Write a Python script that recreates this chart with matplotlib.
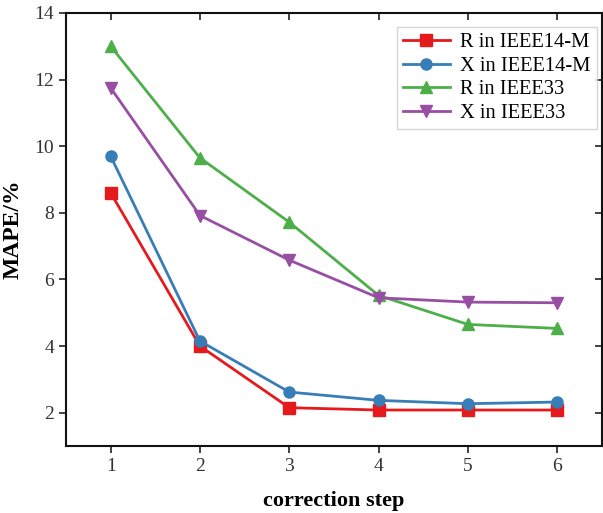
import matplotlib
matplotlib.use("Agg")
import matplotlib.pyplot as plt
import matplotlib.lines as mlines

steps = [1, 2, 3, 4, 5, 6]
r_ieee14 = [8.6, 4.0, 2.15, 2.08, 2.08, 2.08]
x_ieee14 = [9.7, 4.15, 2.62, 2.37, 2.27, 2.32]
r_ieee33 = [13.0, 9.65, 7.72, 5.52, 4.65, 4.53]
x_ieee33 = [11.75, 7.92, 6.58, 5.45, 5.32, 5.30]
labels = ["R in IEEE14-M", "X in IEEE14-M", "R in IEEE33", "X in IEEE33"]
yticks = [2, 4, 6, 8, 10, 12, 14]

plt.rcParams['font.family'] = ['Liberation Serif', 'DejaVu Serif']

fig = plt.figure(figsize=(6.03, 5.13), dpi=100)
ax = fig.add_axes([0.1095, 0.1306, 0.8885, 0.8441])

series = [r_ieee14, x_ieee14, r_ieee33, x_ieee33]
colors = ['#e41a1c', '#377eb8', '#4daf4a', '#984ea3']
markers = ['s', 'o', '^', 'v']
for vals, c, m, lab in zip(series, colors, markers, labels):
    ax.plot(steps, vals, color=c, marker=m, lw=2.0, ms=8, label=lab)

ax.set_xlim(0.5, 6.5)
ax.set_ylim(1, 14)
ax.set_xticks(steps)
ax.set_yticks(yticks)
ax.tick_params(axis='both', direction='out', labelsize=14, length=5, width=1.2,
               color='#222222', labelcolor='#333333', top=True, right=True,
               labeltop=False, labelright=False)
for t in ax.xaxis.get_major_ticks():
    t.tick2line.set_marker(mlines.TICKDOWN)
for t in ax.yaxis.get_major_ticks():
    t.tick2line.set_marker(mlines.TICKLEFT)

for s in ax.spines.values():
    s.set_linewidth(1.5)
    s.set_color('#111111')

ax.set_xlabel('correction step', fontsize=16, fontweight='bold', labelpad=12)
ax.set_ylabel('MAPE/%', fontsize=17, fontweight='bold', labelpad=8)

leg = ax.legend(loc='upper right', bbox_to_anchor=(0.991, 0.968), fontsize=14.8,
                fancybox=False, edgecolor='#cccccc', borderaxespad=0.0,
                handlelength=2.3, handletextpad=0.5, labelspacing=0.2, borderpad=0.3)
leg.get_frame().set_linewidth(1.0)

fig.savefig('out.png', dpi=100)
